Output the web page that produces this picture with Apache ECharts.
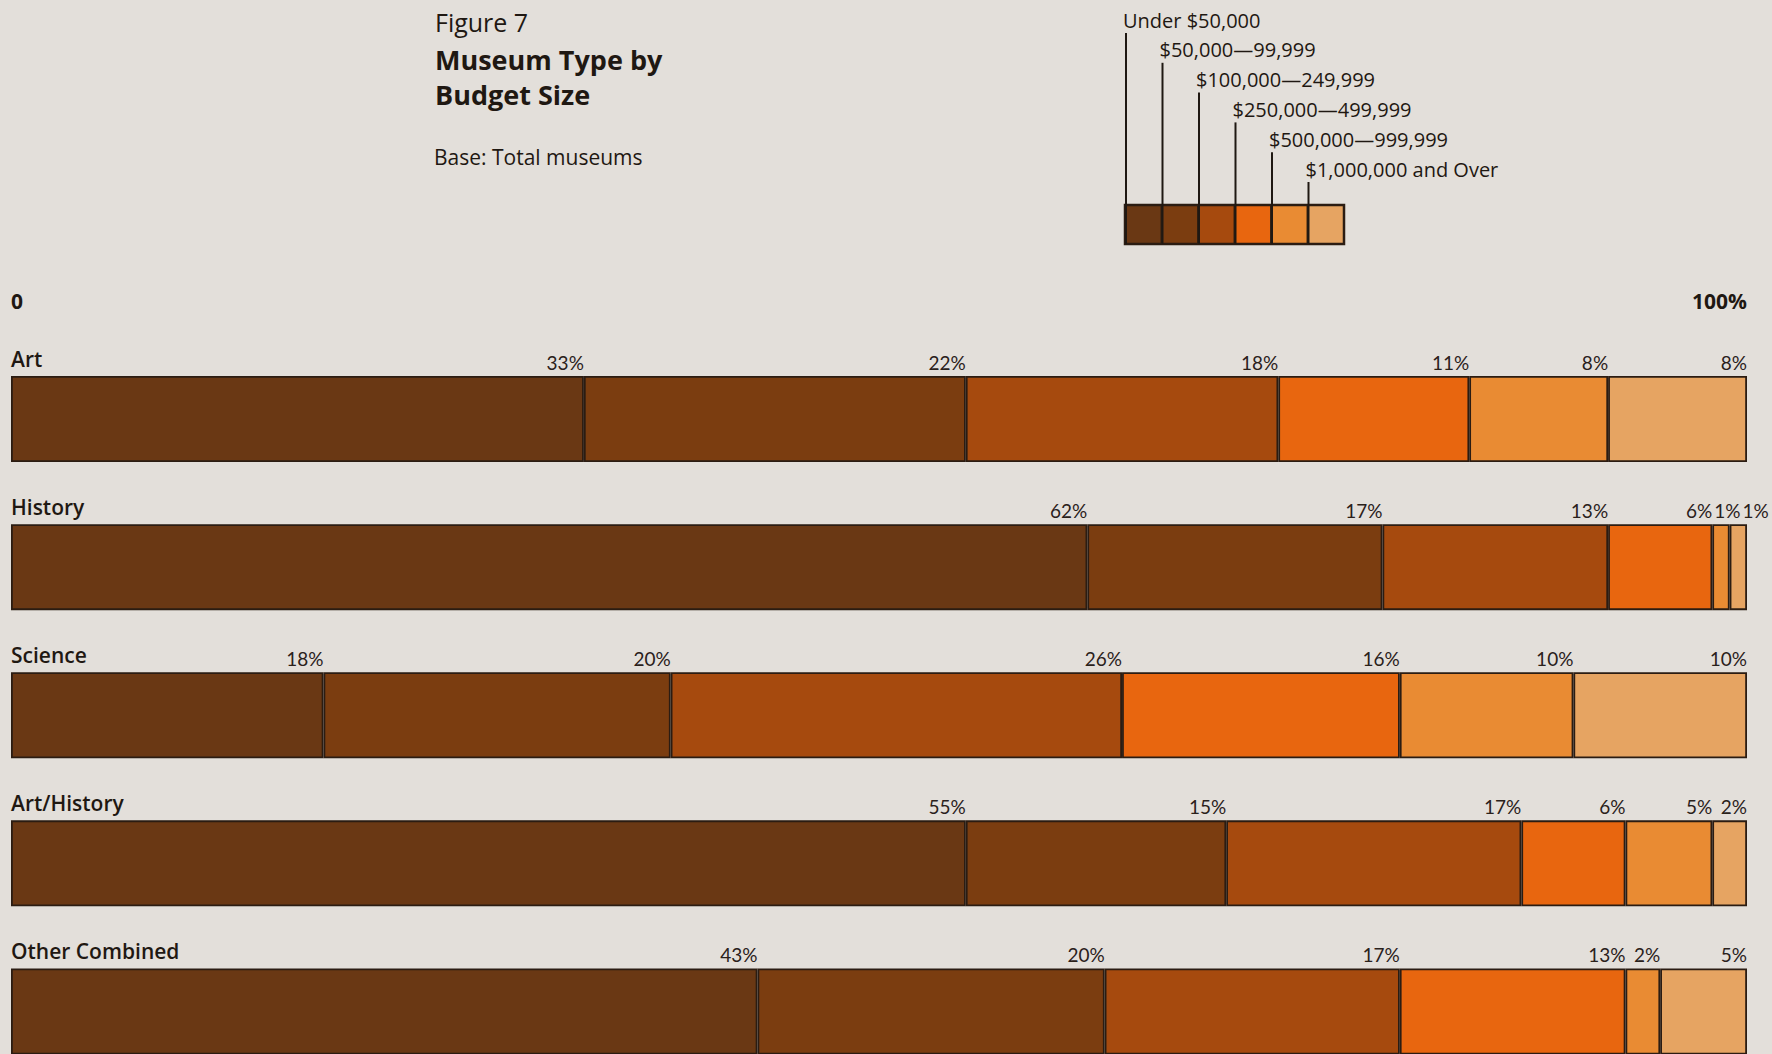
<!DOCTYPE html>
<html>
<head>
<meta charset="utf-8">
<title>Museum Type by Budget Size</title>
<script src="https://cdn.jsdelivr.net/npm/echarts@6/dist/echarts.min.js"></script>
<style>
  html, body { margin: 0; padding: 0; background: #e3dfda; }
  #chart { width: 1772px; height: 1054px; }
</style>
</head>
<body>
<div id="chart"></div>
<script>
// Museum types (rows, top to bottom)
const museumTypes = ['Art', 'History', 'Science', 'Art/History', 'Other Combined'];

// Budget brackets (stack order, left to right)
const budgetBrackets = [
  'Under $50,000',
  '$50,000\u201499,999',
  '$100,000\u2014249,999',
  '$250,000\u2014499,999',
  '$500,000\u2014999,999',
  '$1,000,000 and Over'
];

// Share of museums (%) in each bracket, per museum type
const under50k       = [33, 62, 18, 55, 43];
const from50kTo100k  = [22, 17, 20, 15, 20];
const from100kTo250k = [18, 13, 26, 17, 17];
const from250kTo500k = [11, 6, 16, 6, 13];
const from500kTo1m   = [8, 1, 10, 5, 2];
const over1m         = [8, 1, 10, 2, 5];

// Scale end labels
const scaleLabels = ['0', '100%'];

const bracketValues = [under50k, from50kTo100k, from100kTo250k, from250kTo500k, from500kTo1m, over1m];
const bracketColors = ['#6a3814', '#7b3d10', '#a64a0e', '#e8660f', '#e98b33', '#e6a462'];

const ink = '#1f1812';
const edge = '#2b1c12';
const bodyFont = 'Lato, "Noto Sans", sans-serif';
const headFont = '"Open Sans", "Noto Sans", sans-serif';

// Push value labels rightward when neighbouring segments are too narrow
const rowRightEdge = {};
const labelGap = 2;
function spreadLabels(p) {
  const r = p.labelRect;
  if (p.seriesIndex === 0) rowRightEdge[p.dataIndex] = -Infinity;
  const prev = rowRightEdge[p.dataIndex];
  let dx = 0;
  if (r.x < prev + labelGap) dx = prev + labelGap - r.x;
  rowRightEdge[p.dataIndex] = r.x + r.width + dx;
  return { dx: dx };
}

const series = budgetBrackets.map(function (name, i) {
  return {
    name: name,
    type: 'bar',
    stack: 'budget',
    barWidth: 86,
    data: bracketValues[i],
    itemStyle: { color: bracketColors[i], borderColor: edge, borderWidth: 1.8 },
    label: {
      show: true,
      position: ['100%', -14],
      align: 'right',
      verticalAlign: 'middle',
      formatter: '{c}%',
      color: '#2a211b',
      fontFamily: bodyFont,
      fontSize: 19,
      textBorderWidth: 0
    },
    labelLayout: spreadLabels,
    silent: true,
    animation: false
  };
});

// Swatch key: coloured cells with leader lines up to each bracket name
const keyLeft = 1125, keyTop = 205, cellW = 36.5, cellH = 39;
const keyGraphics = [];
budgetBrackets.forEach(function (name, i) {
  const x = keyLeft + i * cellW;
  keyGraphics.push({
    type: 'rect',
    shape: { x: x, y: keyTop, width: cellW, height: cellH },
    style: { fill: bracketColors[i], stroke: edge, lineWidth: 1.5 }
  });
});
keyGraphics.push({
  type: 'rect',
  shape: { x: keyLeft, y: keyTop, width: cellW * 6, height: cellH },
  style: { fill: 'none', stroke: edge, lineWidth: 2.5 }
});
budgetBrackets.forEach(function (name, i) {
  const x = keyLeft + i * cellW + 1;
  const lineTop = 33 + i * 29.8;
  keyGraphics.push({
    type: 'line',
    shape: { x1: x, y1: lineTop, x2: x, y2: keyTop + cellH },
    style: { stroke: ink, lineWidth: 2 }
  });
  keyGraphics.push({
    type: 'text',
    x: x - 3,
    y: lineTop - 13,
    style: {
      text: name,
      fill: ink,
      font: '20px ' + headFont,
      verticalAlign: 'middle',
      align: 'left'
    }
  });
});

const chart = echarts.init(document.getElementById('chart'), null, { renderer: 'svg' });
chart.setOption({
  backgroundColor: '#e3dfda',
  animation: false,
  title: [
    {
      text: 'Figure 7', left: 435, top: 9, padding: 0,
      textStyle: { fontFamily: headFont, fontSize: 25, fontWeight: 'normal', color: ink }
    },
    {
      text: 'Museum Type by\nBudget Size', left: 435, top: 42, padding: 0,
      textStyle: { fontFamily: headFont, fontSize: 27, fontWeight: 'bold', color: ink, lineHeight: 35 }
    },
    {
      text: 'Base: Total museums', left: 434, top: 146, padding: 0,
      textStyle: { fontFamily: headFont, fontSize: 21, fontWeight: 'normal', color: ink }
    }
  ],
  grid: { left: 11, right: 25, top: 345, height: 740.5, containLabel: false, outerBoundsMode: 'none' },
  xAxis: {
    type: 'value',
    position: 'top',
    min: 0,
    max: 100,
    interval: 100,
    axisLine: { show: false },
    axisTick: { show: false },
    splitLine: { show: false },
    axisLabel: {
      margin: 34,
      formatter: function (v) { return v >= 100 ? scaleLabels[1] : scaleLabels[0]; },
      alignMinLabel: 'left',
      alignMaxLabel: 'right',
      fontFamily: headFont,
      fontSize: 21,
      fontWeight: 'bold',
      color: ink
    }
  },
  yAxis: {
    type: 'category',
    data: museumTypes,
    inverse: true,
    axisLine: { show: false },
    axisTick: { show: false },
    splitLine: { show: false },
    axisLabel: {
      show: true,
      inside: true,
      interval: 0,
      hideOverlap: false,
      margin: 0,
      align: 'left',
      verticalAlign: 'bottom',
      padding: [0, 0, 50, 0],
      fontFamily: headFont,
      fontSize: 21,
      fontWeight: 600,
      color: ink
    }
  },
  graphic: keyGraphics,
  series: series
});
</script>
</body>
</html>
